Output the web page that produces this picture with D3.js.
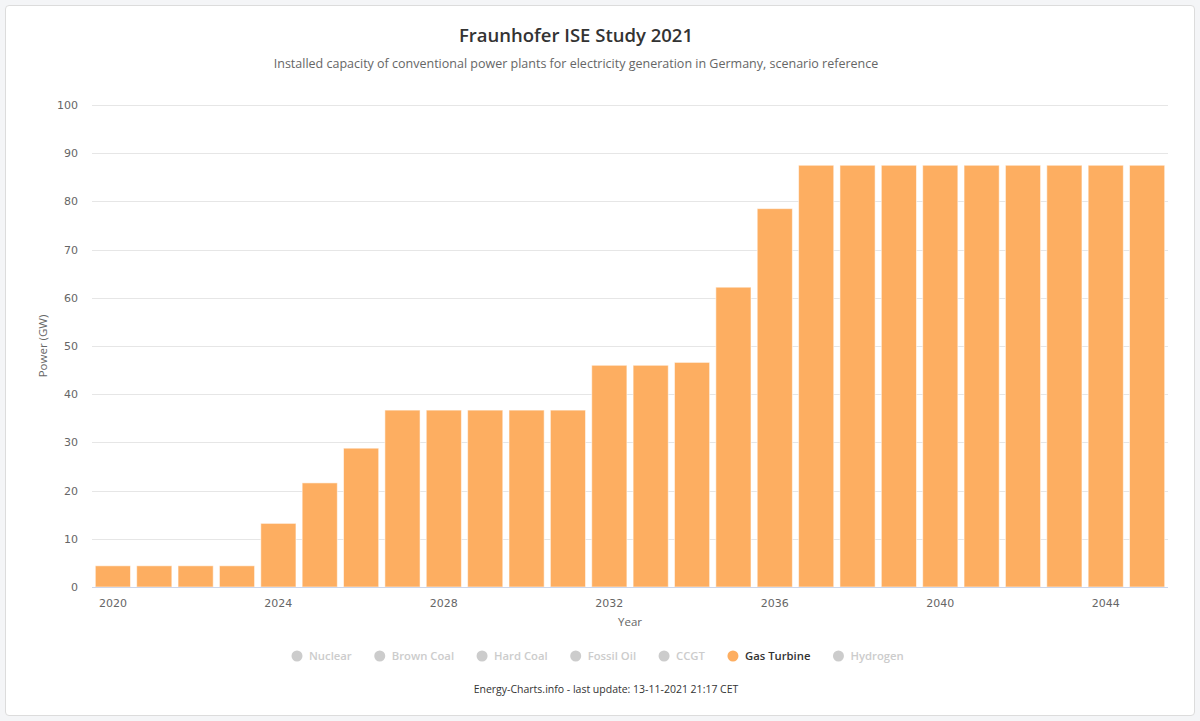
<!DOCTYPE html>
<html>
<head>
<meta charset="utf-8">
<script src="https://cdn.jsdelivr.net/npm/d3@7"></script>
<style>
  html, body { margin: 0; padding: 0; background: #f4f5f7; }
  #card {
    position: absolute; left: 5px; top: 5px; width: 1188px; height: 709px;
    background: #fff; border: 1px solid #dcdcdc; border-radius: 4px;
  }
  svg { position: absolute; left: 0; top: 0; }
</style>
</head>
<body>
<div id="card"></div>
<svg id="chart"></svg>
<script>
const CONF = {
    width: 1200,
    height: 721,
    left: 92,
    right: 1168,
    top: 105,
    bottom: 587,
    barColor: "#fdae61",
}

// installed capacity, Gas Turbine, GW
const years = d3.range(2020, 2046)
const gasTurbine = [
    4.4, 4.4, 4.4, 4.4, 13.2, 21.6, 28.8, 36.7, 36.7, 36.7,
    36.7, 36.7, 46.0, 46.0, 46.6, 62.2, 78.5, 87.5, 87.5, 87.5,
    87.5, 87.5, 87.5, 87.5, 87.5, 87.5,
]
const yTicks = [0, 10, 20, 30, 40, 50, 60, 70, 80, 90, 100]
const xTicks = [2020, 2024, 2028, 2032, 2036, 2040, 2044]
const legendItems = ["Nuclear", "Brown Coal", "Hard Coal", "Fossil Oil", "CCGT", "Gas Turbine", "Hydrogen"]
const activeSeries = "Gas Turbine"

const uiFont = "'Open Sans', 'Noto Sans', sans-serif"
const tickFont = "'DejaVu Sans', Verdana, sans-serif"

let svg = d3.select("svg#chart").attr("width", CONF.width).attr("height", CONF.height)

let x = d3.scaleBand().domain(years).range([CONF.left, CONF.right]).paddingInner(0.15).paddingOuter(0.08)
let y = d3.scaleLinear().domain([0, 100]).range([CONF.bottom, CONF.top])

// titles
svg.append("text")
    .attr("x", 576).attr("y", 42)
    .attr("text-anchor", "middle")
    .style("font-family", uiFont).style("font-size", "18.5px").style("font-weight", 600)
    .attr("fill", "#333")
    .text("Fraunhofer ISE Study 2021")

svg.append("text")
    .attr("x", 576).attr("y", 68)
    .attr("text-anchor", "middle")
    .style("font-family", uiFont).style("font-size", "12.5px")
    .attr("fill", "#666")
    .text("Installed capacity of conventional power plants for electricity generation in Germany, scenario reference")

// grid
svg.append("g")
    .selectAll("line")
    .data(yTicks.filter(d => d > 0))
    .enter()
    .append("line")
    .attr("x1", CONF.left).attr("x2", CONF.right)
    .attr("y1", d => Math.round(y(d)) + 0.5).attr("y2", d => Math.round(y(d)) + 0.5)
    .attr("stroke", "#e6e6e6")

// y axis labels
let yAxis = svg.append("g")
    .attr("transform", `translate(${CONF.left - 14},0)`)
    .call(d3.axisLeft(y).tickValues(yTicks).tickSize(0).tickPadding(0))
yAxis.select(".domain").remove()
yAxis.selectAll("text")
    .style("font-family", tickFont).style("font-size", "11px").attr("fill", "#666")

svg.append("text")
    .attr("transform", `translate(47,${(CONF.top + CONF.bottom) / 2}) rotate(-90)`)
    .attr("text-anchor", "middle")
    .style("font-family", uiFont).style("font-size", "11.5px")
    .attr("fill", "#666")
    .text("Power (GW)")

// bars
svg.append("g")
    .selectAll("rect")
    .data(gasTurbine)
    .enter()
    .append("rect")
    .attr("x", (d, i) => x(years[i]))
    .attr("width", x.bandwidth())
    .attr("y", d => y(d))
    .attr("height", d => y(0) - y(d))
    .attr("fill", CONF.barColor)
    .attr("stroke", "#fff")
    .attr("stroke-opacity", 0.55)
    .attr("stroke-width", 1)

// x axis
svg.append("line")
    .attr("x1", CONF.left).attr("x2", CONF.right)
    .attr("y1", CONF.bottom + 0.5).attr("y2", CONF.bottom + 0.5)
    .attr("stroke", "#ccd6eb")

let xAxis = svg.append("g")
    .attr("transform", `translate(0,${CONF.bottom})`)
    .call(d3.axisBottom(x).tickValues(xTicks).tickSize(0).tickPadding(12))
xAxis.select(".domain").remove()
xAxis.selectAll("text")
    .style("font-family", tickFont).style("font-size", "11px").attr("fill", "#666")

svg.append("text")
    .attr("x", (CONF.left + CONF.right) / 2).attr("y", 626)
    .attr("text-anchor", "middle")
    .style("font-family", uiFont).style("font-size", "11.5px")
    .attr("fill", "#666")
    .text("Year")

// legend
let legend = svg.append("g").attr("transform", "translate(0,656)")
let cursor = 291
legendItems.forEach(name => {
    let on = name === activeSeries
    let g = legend.append("g").attr("transform", `translate(${cursor},0)`)
    g.append("circle").attr("cx", 6).attr("cy", 0).attr("r", 5.5)
        .attr("fill", on ? CONF.barColor : "#cccccc")
    let t = g.append("text").attr("x", 18).attr("y", 4.2)
        .style("font-family", uiFont).style("font-size", "11.3px").style("font-weight", 600)
        .attr("fill", on ? "#333" : "#cccccc")
        .text(name)
    cursor += 18 + t.node().getComputedTextLength() + 22
})

// footer
svg.append("text")
    .attr("x", 606).attr("y", 693)
    .attr("text-anchor", "middle")
    .style("font-family", uiFont).style("font-size", "10.5px")
    .attr("fill", "#333")
    .text("Energy-Charts.info - last update: 13-11-2021 21:17 CET")
</script>
</body>
</html>
